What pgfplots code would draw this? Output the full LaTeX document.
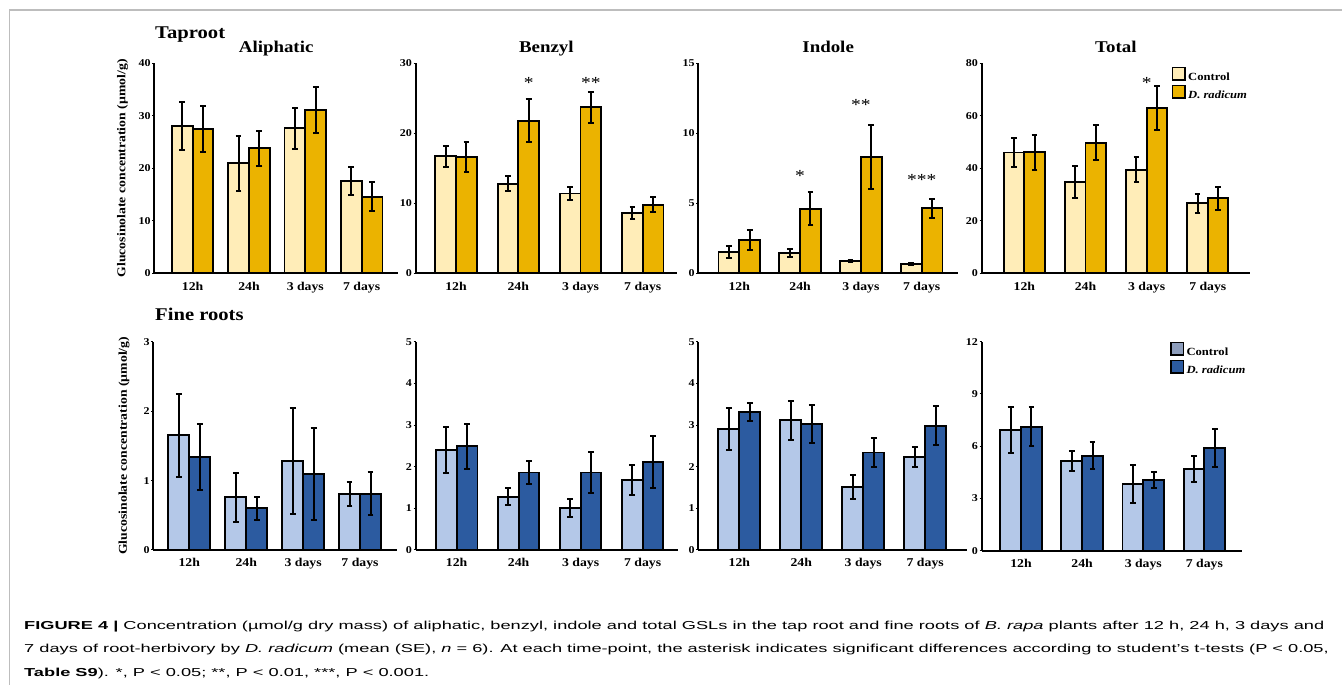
\documentclass[border=0pt]{standalone}
\usepackage{pgfplots}
\usepackage{pgfplotstable}
\usepackage{graphicx}
\pgfplotsset{compat=1.18}
\usepackage{fontspec}
\setmainfont{Liberation Serif}[FakeStretch=1.15]
\newfontfamily\capfont{Liberation Sans}

\definecolor{ctrlY}{HTML}{FFEDB8}
\definecolor{trtY}{HTML}{EBB300}
\definecolor{ctrlB}{HTML}{B4C8E8}
\definecolor{trtB}{HTML}{2C5BA0}
\definecolor{legB}{HTML}{8D9DBB}
\definecolor{framec}{HTML}{BDBDBD}

% x = time point (0=12h,1=24h,2=3 days,3=7 days); c/ce = control mean/SE; t/te = D. radicum mean/SE
\pgfplotstableread{
x c ce t te
0 28.1 4.6 27.5 4.4
1 20.95 5.2 23.8 3.3
2 27.6 3.9 31.1 4.3
3 17.6 2.7 14.6 2.7
}\TapAli
\pgfplotstableread{
x c ce t te
0 16.7 1.5 16.6 2.1
1 12.8 1.1 21.8 3.1
2 11.4 0.9 23.7 2.2
3 8.6 0.85 9.8 1.1
}\TapBen
\pgfplotstableread{
x c ce t te
0 1.52 0.43 2.36 0.71
1 1.43 0.29 4.62 1.2
2 0.9 0.07 8.29 2.3
3 0.67 0.09 4.64 0.67
}\TapInd
\pgfplotstableread{
x c ce t te
0 46.0 5.6 46.1 6.6
1 34.8 6.2 49.8 6.7
2 39.5 4.8 62.9 8.4
3 26.7 3.6 28.6 4.3
}\TapTot
\pgfplotstableread{
x c ce t te
0 1.65 0.6 1.34 0.47
1 0.76 0.35 0.60 0.17
2 1.28 0.76 1.09 0.66
3 0.81 0.17 0.81 0.31
}\FinAli
\pgfplotstableread{
x c ce t te
0 2.4 0.55 2.49 0.54
1 1.28 0.2 1.86 0.27
2 1.01 0.22 1.86 0.5
3 1.68 0.36 2.12 0.62
}\FinBen
\pgfplotstableread{
x c ce t te
0 2.91 0.5 3.32 0.22
1 3.11 0.47 3.02 0.46
2 1.51 0.28 2.34 0.35
3 2.24 0.24 2.98 0.47
}\FinInd
\pgfplotstableread{
x c ce t te
0 6.93 1.34 7.12 1.11
1 5.13 0.57 5.45 0.77
2 3.81 1.09 4.04 0.46
3 4.69 0.75 5.89 1.09
}\FinTot

\pgfplotsset{
  gsl/.style={
    scale only axis, anchor=south west,
    axis lines*=left,
    axis line style={line width=1.7bp, black},
    ymin=0, clip=false,
    xtick={0,1,2,3}, xticklabels={12h,24h,3 days,7 days},
    x tick style={draw=none},
    xticklabel style={font=\bfseries\fontsize{12}{12}\selectfont, yshift=-3bp},
    y tick style={line width=1bp, black},
    tick align=outside, major tick length=2bp,
    yticklabel style={font=\bfseries\fontsize{10.5}{10.5}\selectfont, inner sep=1.5bp},
    /pgf/number format/assume math mode=true,
    title style={font=\bfseries\fontsize{16.5}{17}\selectfont, at={(axis description cs:0.5,1)}, anchor=base, yshift=4.5bp},
    ylabel style={font=\bfseries\fontsize{12}{12}\selectfont, anchor=center},
    legend style={draw=none, fill=none, inner sep=0pt, outer sep=0pt, row sep=0pt,
      font=\bfseries\fontsize{11}{11}\selectfont, cells={anchor=west},
      nodes={inner sep=2.2bp, text height=8bp, text depth=2.5bp}},
    legend image code/.code={\draw[##1, draw=black, line width=1.7bp] (0bp,-2.6bp) rectangle (12.6bp,9.8bp);},
  },
  barsty/.style={ybar, bar shift=0pt, draw=black, line width=1.9bp, forget plot,
    error bars/y dir=both, error bars/y explicit,
    error bars/error bar style={line width=2bp, black},
    error bars/error mark options={rotate=90, line width=2bp, mark size=2.9bp, black}},
}
\tikzset{star/.style={font=\fontsize{17}{17}\selectfont, anchor=base, yshift=-8.5bp, inner sep=0pt}}

\newsavebox\capA
\newsavebox\capB
\newsavebox\capC
\newdimen\capW

\begin{document}
\sbox\capA{\capfont\fontsize{11.6}{12}\selectfont{\bfseries FIGURE 4 |} Concentration (µmol/g dry mass) of aliphatic, benzyl, indole and total GSLs in the tap root and fine roots of \textit{B. rapa} plants after 12 h, 24 h, 3 days and}%
\sbox\capB{\capfont\fontsize{11.6}{12}\selectfont 7 days of root-herbivory by \textit{D. radicum} (mean (SE), \textit{n} = 6). At each time-point, the asterisk indicates significant differences according to student’s t-tests (P < 0.05,}%
\sbox\capC{\capfont\fontsize{11.6}{12}\selectfont{\bfseries Table S9}). *, P < 0.05; **, P < 0.01, ***, P < 0.001.}%
\capW=\wd\capA
\pgfmathsetmacro\capfac{1304.9/\capW}%
\begin{tikzpicture}
\path[use as bounding box] (0,0) rectangle (1342bp,687bp);
\draw[framec, line width=1.3bp] (9.3bp,2bp) -- (9.3bp,677bp) -- (1342bp,677bp);

\node[anchor=base west, inner sep=0pt, font=\bfseries\fontsize{18}{18}\selectfont] at (155bp,648bp) {Taproot};
\node[anchor=base west, inner sep=0pt, font=\bfseries\fontsize{18}{18}\selectfont] at (155bp,366bp) {Fine roots};

% ---------- Taproot: Aliphatic
\begin{axis}[gsl, at={(154.3bp,413.7bp)}, width=243.7bp, height=210bp,
  xmin=-0.68, xmax=3.645, ymax=40, ytick={0,10,20,30,40},
  title={Aliphatic}, ylabel={Glucosinolate concentration (µmol/g)},
  ylabel style={at={(axis description cs:-0.1305,0.5)}}]
\addplot[bar width=0.369, fill=ctrlY, barsty] table[x expr=\thisrow{x}-0.1845, y=c, y error=ce]{\TapAli};
\addplot[bar width=0.369, fill=trtY, barsty] table[x expr=\thisrow{x}+0.1845, y=t, y error=te]{\TapAli};
\end{axis}

% ---------- Taproot: Benzyl
\begin{axis}[gsl, at={(415.7bp,413.7bp)}, width=261.3bp, height=210bp,
  xmin=-0.648, xmax=3.55, ymax=30, ytick={0,10,20,30},
  title={Benzyl}]
\addplot[bar width=0.333, fill=ctrlY, barsty] table[x expr=\thisrow{x}-0.1665, y=c, y error=ce]{\TapBen};
\addplot[bar width=0.333, fill=trtY, barsty] table[x expr=\thisrow{x}+0.1665, y=t, y error=te]{\TapBen};
\node[star] at (axis cs:1.1665,27.6) {*};
\node[star] at (axis cs:2.1665,27.6) {**};
\end{axis}

% ---------- Taproot: Indole
\begin{axis}[gsl, at={(698.3bp,413.7bp)}, width=259.7bp, height=210bp,
  xmin=-0.674, xmax=3.597, ymax=15, ytick={0,5,10,15},
  title={Indole}]
\addplot[bar width=0.342, fill=ctrlY, barsty] table[x expr=\thisrow{x}-0.171, y=c, y error=ce]{\TapInd};
\addplot[bar width=0.342, fill=trtY, barsty] table[x expr=\thisrow{x}+0.171, y=t, y error=te]{\TapInd};
\node[star] at (axis cs:1,7.14) {*};
\node[star] at (axis cs:2,12.26) {**};
\node[star] at (axis cs:3,6.9) {***};
\end{axis}

% ---------- Taproot: Total
\begin{axis}[gsl, at={(981.7bp,413.7bp)}, width=268.3bp, height=210bp,
  xmin=-0.697, xmax=3.69, ymax=80, ytick={0,20,40,60,80},
  title={Total},
  legend style={at={(axis description cs:0.708,0.984)}, anchor=north west}]
\addplot[bar width=0.335, fill=ctrlY, barsty] table[x expr=\thisrow{x}-0.1675, y=c, y error=ce]{\TapTot};
\addplot[bar width=0.335, fill=trtY, barsty] table[x expr=\thisrow{x}+0.1675, y=t, y error=te]{\TapTot};
\node[star] at (axis cs:2,73.6) {*};
\addlegendimage{fill=ctrlY}
\addlegendentry{Control}
\addlegendimage{fill=trtY}
\addlegendentry{\textit{D. radicum}}
\end{axis}

% ---------- Fine roots: Aliphatic
\begin{axis}[gsl, at={(153.3bp,137bp)}, width=243.4bp, height=208.3bp,
  xmin=-0.633, xmax=3.645, ymax=3, ytick={0,1,2,3},
  ylabel={Glucosinolate concentration (µmol/g)},
  ylabel style={at={(axis description cs:-0.1204,0.5)}}]
\addplot[bar width=0.369, fill=ctrlB, barsty] table[x expr=\thisrow{x}-0.1845, y=c, y error=ce]{\FinAli};
\addplot[bar width=0.369, fill=trtB, barsty] table[x expr=\thisrow{x}+0.1845, y=t, y error=te]{\FinAli};
\end{axis}

% ---------- Fine roots: Benzyl
\begin{axis}[gsl, at={(415.7bp,137bp)}, width=262.3bp, height=208.3bp,
  xmin=-0.661, xmax=3.57, ymax=5, ytick={0,1,2,3,4,5}]
\addplot[bar width=0.335, fill=ctrlB, barsty] table[x expr=\thisrow{x}-0.1675, y=c, y error=ce]{\FinBen};
\addplot[bar width=0.335, fill=trtB, barsty] table[x expr=\thisrow{x}+0.1675, y=t, y error=te]{\FinBen};
\end{axis}

% ---------- Fine roots: Indole
\begin{axis}[gsl, at={(698.3bp,137bp)}, width=268.4bp, height=208.3bp,
  xmin=-0.662, xmax=3.67, ymax=5, ytick={0,1,2,3,4,5}]
\addplot[bar width=0.34, fill=ctrlB, barsty] table[x expr=\thisrow{x}-0.17, y=c, y error=ce]{\FinInd};
\addplot[bar width=0.34, fill=trtB, barsty] table[x expr=\thisrow{x}+0.17, y=t, y error=te]{\FinInd};
\end{axis}

% ---------- Fine roots: Total
\begin{axis}[gsl, at={(981.7bp,136.3bp)}, width=260.6bp, height=209bp,
  xmin=-0.643, xmax=3.62, ymax=12, ytick={0,3,6,9,12},
  legend style={at={(axis description cs:0.7226,1.0)}, anchor=north west}]
\addplot[bar width=0.34, fill=ctrlB, barsty] table[x expr=\thisrow{x}-0.17, y=c, y error=ce]{\FinTot};
\addplot[bar width=0.34, fill=trtB, barsty] table[x expr=\thisrow{x}+0.17, y=t, y error=te]{\FinTot};
\addlegendimage{fill=legB}
\addlegendentry{Control}
\addlegendimage{fill=trtB}
\addlegendentry{\textit{D. radicum}}
\end{axis}

% ---------- caption
\node[anchor=base west, inner sep=0pt] at (24bp,57bp) {\scalebox{\capfac}[1]{\usebox\capA}};
\node[anchor=base west, inner sep=0pt] at (24bp,34.3bp) {\scalebox{\capfac}[1]{\usebox\capB}};
\node[anchor=base west, inner sep=0pt] at (24bp,10.3bp) {\scalebox{\capfac}[1]{\usebox\capC}};
\end{tikzpicture}
\end{document}
